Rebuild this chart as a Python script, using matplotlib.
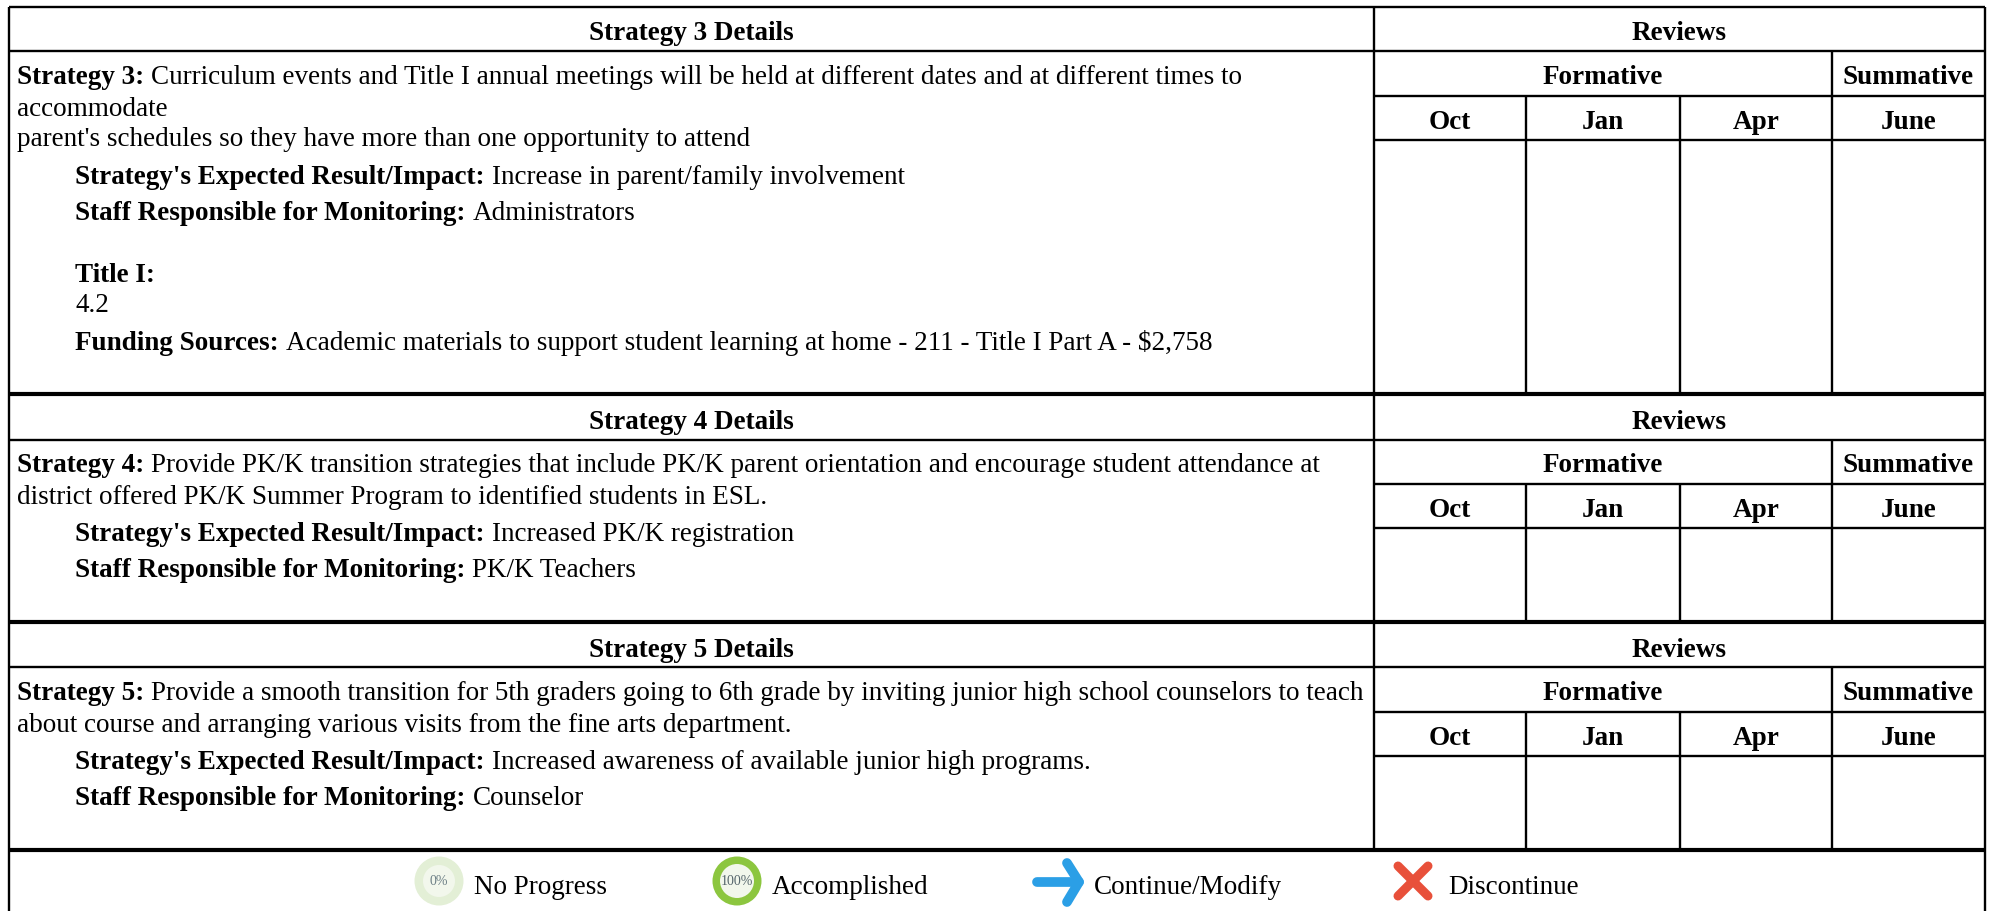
import matplotlib.pyplot as plt
from matplotlib.patches import Circle

plt.rcParams['font.family'] = 'Liberation Serif'

W, H = 1995, 912
FONT = 19.5

# table text
section_titles = ["Strategy 3 Details", "Strategy 4 Details", "Strategy 5 Details"]
review_title = "Reviews"
formative_title = "Formative"
summative_title = "Summative"
months = ["Oct", "Jan", "Apr", "June"]

# (bold part, regular part, indented, baseline y)
strategy3_lines = [
    ("Strategy 3:", "Curriculum events and Title I annual meetings will be held at different dates and at different times to", False, 83.5),
    ("", "accommodate", False, 115.5),
    ("", "parent's schedules so they have more than one opportunity to attend", False, 145.5),
    ("Strategy's Expected Result/Impact:", "Increase in parent/family involvement", True, 183.5),
    ("Staff Responsible for Monitoring:", "Administrators", True, 220.5),
    ("Title I:", "", True, 282.5),
    ("", "4.2", True, 312.5),
    ("Funding Sources:", "Academic materials to support student learning at home - 211 - Title I Part A - $2,758", True, 350.5),
]
strategy4_lines = [
    ("Strategy 4:", "Provide PK/K transition strategies that include PK/K parent orientation and encourage student attendance at", False, 472.5),
    ("", "district offered PK/K Summer Program to identified students in ESL.", False, 504.5),
    ("Strategy's Expected Result/Impact:", "Increased PK/K registration", True, 541.5),
    ("Staff Responsible for Monitoring:", "PK/K Teachers", True, 577.5),
]
strategy5_lines = [
    ("Strategy 5:", "Provide a smooth transition for 5th graders going to 6th grade by inviting junior high school counselors to teach", False, 700.5),
    ("", "about course and arranging various visits from the fine arts department.", False, 732.5),
    ("Strategy's Expected Result/Impact:", "Increased awareness of available junior high programs.", True, 769.5),
    ("Staff Responsible for Monitoring:", "Counselor", True, 805.5),
]
legend_labels = ["No Progress", "Accomplished", "Continue/Modify", "Discontinue"]

# layout in pixels
left, right, top = 9, 1985, 8
split_x = 1374
col_x = [1374, 1526, 1680, 1832, 1985]
block_tops = [8, 395, 623]
block_bottoms = [395, 623, 851]
block_rows = [(52, 97, 141), (441, 485, 529), (668, 713, 757)]
title_nudge = [1, 2, 2]
text_x = 17
indent_x = 75
legend_text_x = [474, 772, 1094, 1448]

fig = plt.figure(figsize=(W / 100, H / 100), dpi=100)
ax = fig.add_axes([0, 0, 1, 1])
ax.set_xlim(0, W)
ax.set_ylim(H, 0)
ax.axis('off')
THIN = 1.7
THICK = 3


def hline(x0, x1, y, lw=THIN):
    ax.plot([x0, x1], [y, y], color='black', lw=lw, solid_capstyle='butt')


def vline(x, y0, y1, lw=THIN):
    ax.plot([x, x], [y0, y1], color='black', lw=lw, solid_capstyle='butt')


def bold_center(x, y, s):
    ax.text(x, y, s, fontsize=FONT, fontweight='bold', ha='center', va='center_baseline')


def write_lines(lines):
    r = fig.canvas.get_renderer()
    for bold, normal, indented, y in lines:
        x = indent_x if indented else text_x
        if bold:
            t = ax.text(x, y, bold, fontsize=FONT, fontweight='bold', va='baseline')
            x = ax.transData.inverted().transform(t.get_window_extent(r))[1][0] + 7
        if normal:
            ax.text(x, y, normal, fontsize=FONT, va='baseline')


# grid for each strategy block
for title, lines, y0, y1, rows, nudge in zip(section_titles,
                                             [strategy3_lines, strategy4_lines, strategy5_lines],
                                             block_tops, block_bottoms, block_rows, title_nudge):
    y_a, y_b, y_c = rows
    hline(left, right, y_a)
    hline(split_x, right, y_b)
    hline(split_x, right, y_c)
    vline(split_x, y0, y1)
    vline(col_x[3], y_a, y1)
    vline(col_x[1], y_b, y1)
    vline(col_x[2], y_b, y1)
    bold_center((left + split_x) / 2, (y0 + y_a) / 2 + nudge, title)
    bold_center((split_x + right) / 2, (y0 + y_a) / 2 + nudge, review_title)
    bold_center((split_x + col_x[3]) / 2, (y_a + y_b) / 2, formative_title)
    bold_center((col_x[3] + right) / 2, (y_a + y_b) / 2, summative_title)
    for i, m in enumerate(months):
        bold_center((col_x[i] + col_x[i + 1]) / 2, (y_b + y_c) / 2 + 0.5, m)
    write_lines(lines)

# outer frame and thick separators
hline(left, right, top)
for y in block_bottoms:
    hline(left, right, y, THICK)
vline(left, top, H)
vline(right, top, H)

# legend icons
ax.add_patch(Circle((439, 882), 24.5, fc='#e3efd6', ec='none'))
ax.add_patch(Circle((439, 882), 16, fc='#f2f7ec', ec='none'))
ax.text(439, 882, "0%", fontsize=10, color='#6d7f86', ha='center', va='center')
ax.add_patch(Circle((737, 882), 24.5, fc='#8cc63f', ec='none'))
ax.add_patch(Circle((737, 882), 17, fc='#f2f7ec', ec='none'))
ax.text(737, 882, "100%", fontsize=10, color='#55656b', ha='center', va='center')
ax.plot([1037, 1079], [883, 883], color='#2b9fe6', lw=7, solid_capstyle='round')
ax.plot([1067, 1079, 1067], [864, 883, 903], color='#2b9fe6', lw=7,
        solid_capstyle='round', solid_joinstyle='round')
ax.plot([1398, 1428], [867, 897], color='#e8503a', lw=6.5, solid_capstyle='round')
ax.plot([1398, 1428], [897, 867], color='#e8503a', lw=6.5, solid_capstyle='round')
for x, label in zip(legend_text_x, legend_labels):
    ax.text(x, 894, label, fontsize=FONT, va='baseline')

fig.savefig('out.png', dpi=100)
